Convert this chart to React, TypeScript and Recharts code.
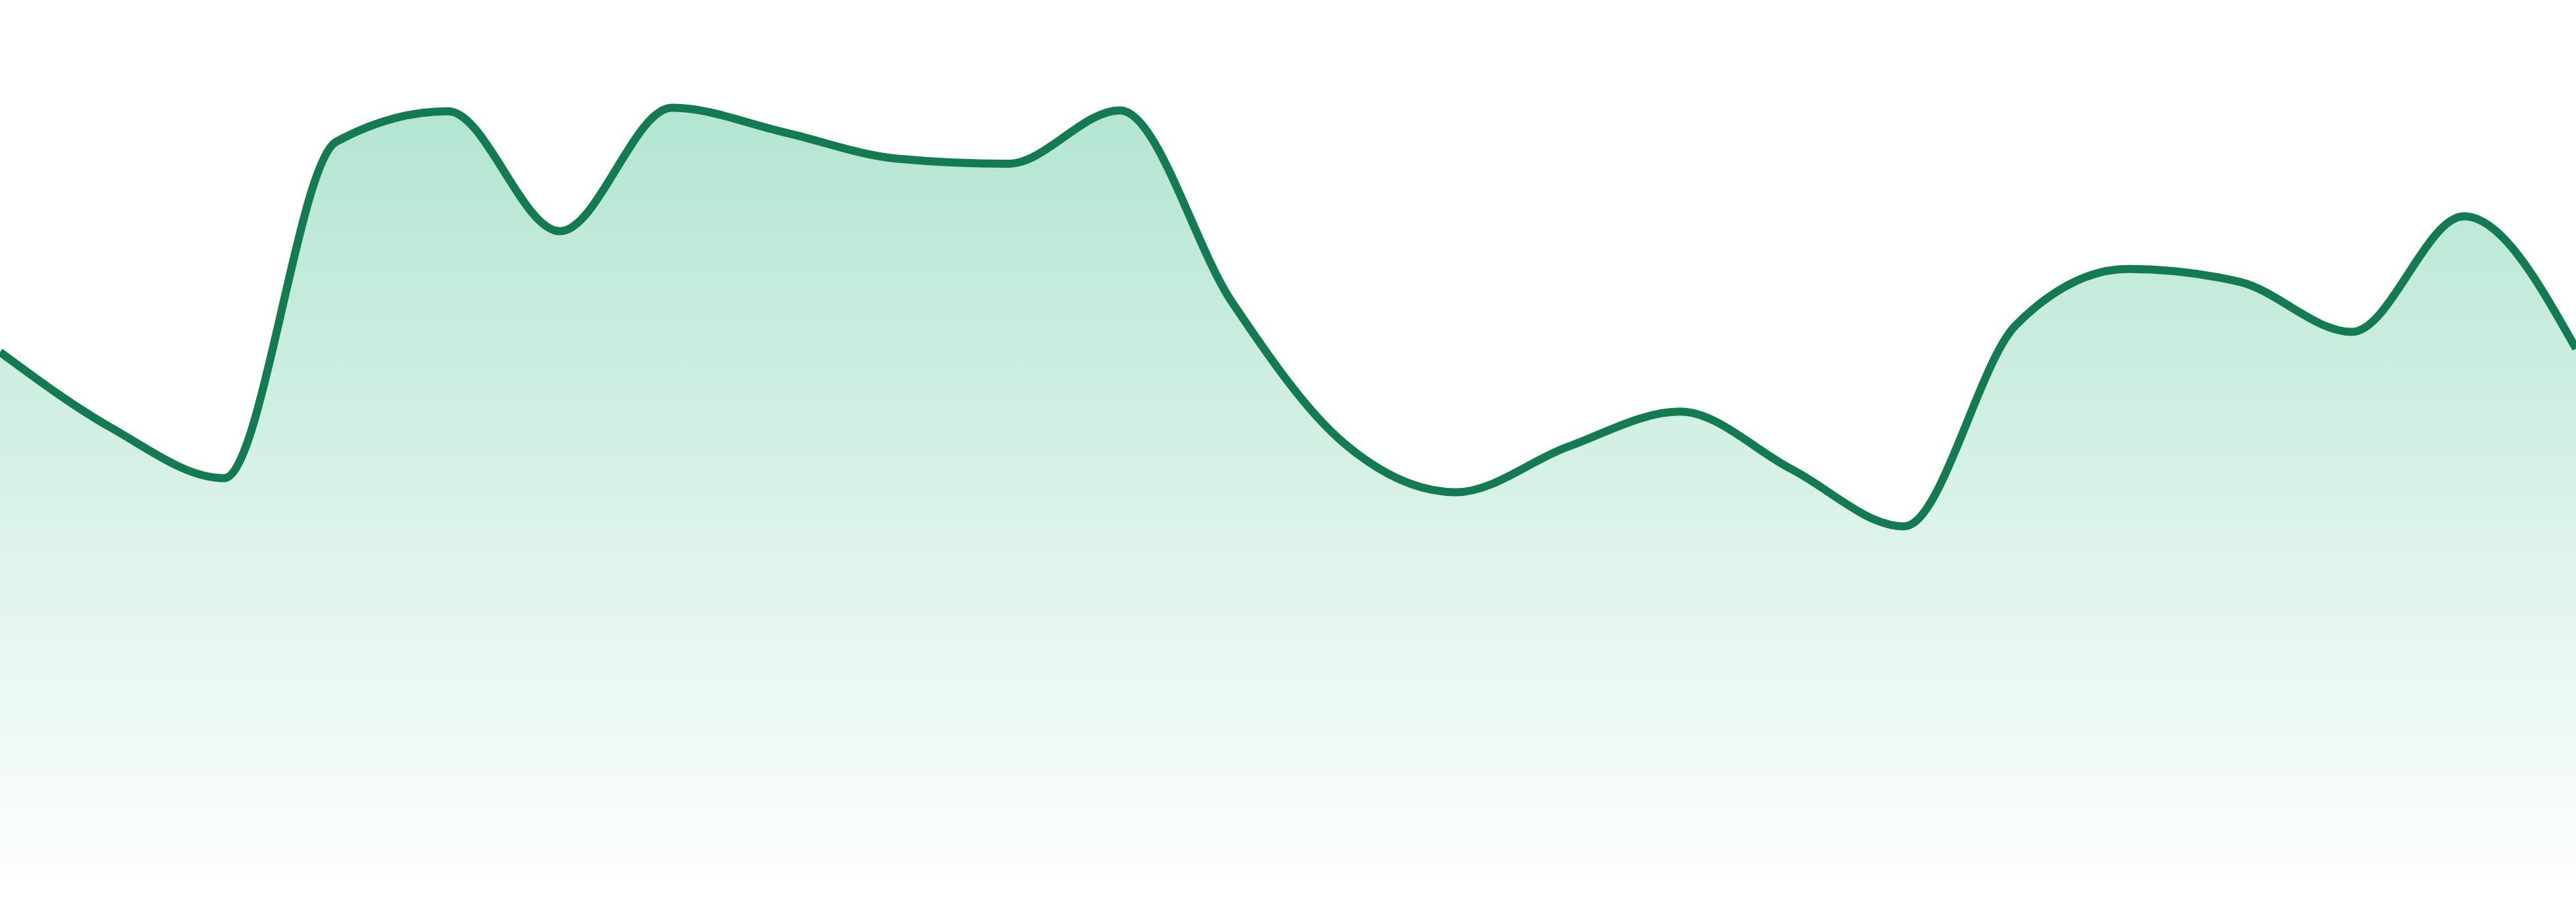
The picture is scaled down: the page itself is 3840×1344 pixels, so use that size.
import React from 'react';
import { AreaChart, Area, XAxis, YAxis } from 'recharts';

const hours = [
  '00:00', '01:00', '02:00', '03:00', '04:00', '05:00', '06:00', '07:00',
  '08:00', '09:00', '10:00', '11:00', '12:00', '13:00', '14:00', '15:00',
  '16:00', '17:00', '18:00', '19:00', '20:00', '21:00', '22:00', '23:00',
];

const values = [
  59.8, 51.1, 45.4, 83.8, 87.3, 73.6, 87.7, 84.9,
  81.9, 81.3, 87.4, 65.5, 49.4, 43.8, 49.0, 53.0,
  46.4, 39.9, 62.9, 69.3, 67.8, 62.1, 75.3, 60.2,
];

const data = hours.map((hour, i) => ({ hour, value: values[i] }));

export default function App() {
  return (
    <div style={{ position: 'absolute', left: 0, top: 0, width: 3840, height: 1344, background: '#ffffff' }}>
      <AreaChart width={3840} height={1344} data={data} margin={{ top: 0, right: 0, bottom: 39, left: 0 }}>
        <defs>
          <linearGradient id="fillGrad" x1="0" y1="0" x2="0" y2="1">
            <stop offset="0%" stopColor="#12ad73" stopOpacity={0.32} />
            <stop offset="100%" stopColor="#12ad73" stopOpacity={0.01} />
          </linearGradient>
        </defs>
        <XAxis dataKey="hour" hide />
        <YAxis hide domain={[0, 100]} />
        <Area
          type="monotone"
          dataKey="value"
          stroke="#127b52"
          strokeWidth={12}
          fill="url(#fillGrad)"
          fillOpacity={1}
          dot={false}
          activeDot={false}
          isAnimationActive={false}
        />
      </AreaChart>
    </div>
  );
}
